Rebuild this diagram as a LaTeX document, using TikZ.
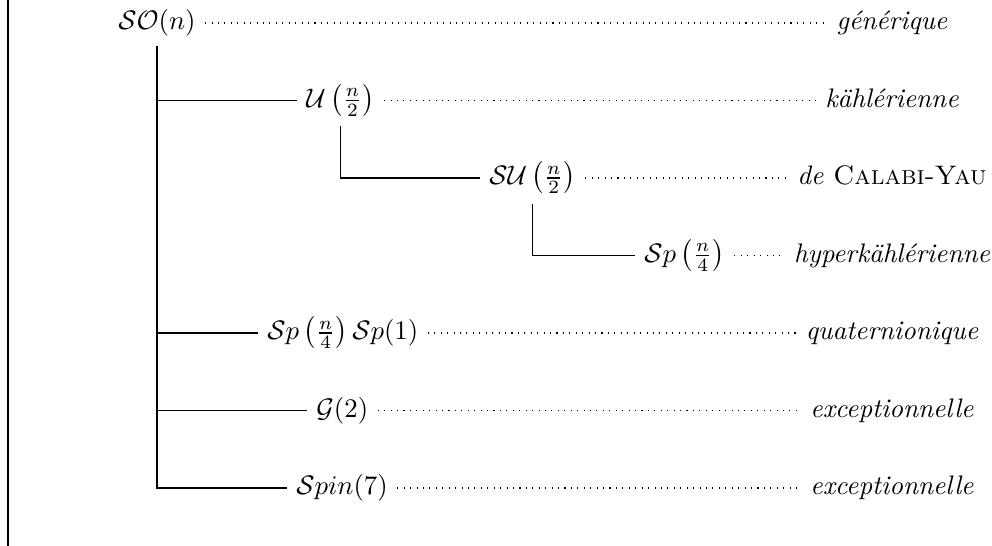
\documentclass[tikz,border=0pt]{standalone}
\usepackage{amsmath}
\begin{document}
\begin{tikzpicture}[x=0.3731pt,y=-0.3731pt,
  grp/.style={inner sep=3.33pt},
  lbl/.style={font=\itshape,text height=7.5pt,text depth=2.5pt,inner sep=3.33pt},
  tree/.style={line width=0.4pt},
  dots/.style={dotted}]
\useasboundingbox (0,0) rectangle (992,546);
\draw (8,0) coordinate (bt) -- (8,546) coordinate (bb);
% group nodes
\node[grp] (so) at (157,23) {$\mathcal{SO}(n)$};
\node[grp,anchor=west] (u) at (297,100.5) {$\mathcal{U}\left(\frac{n}{2}\right)$};
\node[grp,anchor=west] (su) at (480,178) {$\mathcal{SU}\left(\frac{n}{2}\right)$};
\node[grp,anchor=west] (sp) at (635,255.5) {$\mathcal{S}p\left(\frac{n}{4}\right)$};
\node[grp,anchor=west] (spsp) at (258,333) {$\mathcal{S}p\left(\frac{n}{4}\right)\mathcal{S}p(1)$};
\node[grp,anchor=west] (g) at (307,410.5) {$\mathcal{G}(2)$};
\node[grp,anchor=west] (spin) at (287,488) {$\mathcal{S}pin(7)$};
% labels
\node[lbl] (l0) at (892,23) {générique};
\node[lbl] (l1) at (892,100.5) {kählérienne};
\node[lbl] (l2) at (892,178) {de \textup{\textsc{Calabi-Yau}}};
\node[lbl] (l3) at (892,255.5) {hyperkählérienne};
\node[lbl] (l4) at (892,333) {quaternionique};
\node[lbl] (l5) at (892,410.5) {exceptionnelle};
\node[lbl] (l6) at (892,488) {exceptionnelle};
% tree edges
\draw[tree] (so.south) |- (u.west);
\draw[tree] (so.south) |- (spsp.west);
\draw[tree] (so.south) |- (g.west);
\draw[tree] (so.south) |- (spin.west);
\draw[tree] (u.south) |- (su.west);
\draw[tree] (su.south) |- (sp.west);
% dotted leaders
\draw[dots] (so.east) -- (l0.west);
\draw[dots] (u.east) -- (l1.west);
\draw[dots] (su.east) -- (l2.west);
\draw[dots] (sp.east) -- (l3.west);
\draw[dots] (spsp.east) -- (l4.west);
\draw[dots] (g.east) -- (l5.west);
\draw[dots] (spin.east) -- (l6.west);
\end{tikzpicture}
\end{document}
